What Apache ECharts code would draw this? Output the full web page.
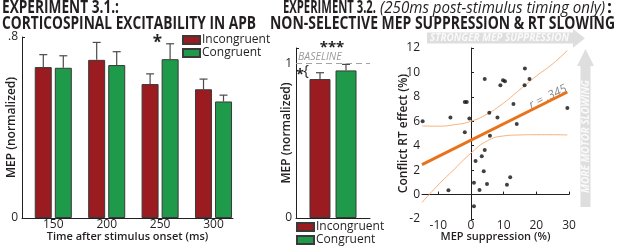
<!DOCTYPE html>
<html>
<head>
<meta charset="utf-8">
<script src="https://cdn.jsdelivr.net/npm/echarts@6/dist/echarts.min.js"></script>
<style>
  html, body { margin: 0; padding: 0; background: #fff; }
  #grafico { width: 617px; height: 247px; }
</style>
</head>
<body>
<div id="grafico"></div>
<script>
// Experimento 3.1: MEP por tiempo tras el estimulo
const tiempos = ['150', '200', '250', '300'];
const incongruente = [0.667, 0.699, 0.592, 0.569];
const congruente = [0.664, 0.676, 0.702, 0.515];
const incongruenteErr = [0.722, 0.776, 0.637, 0.614]; // extremo superior de la barra de error
const congruenteErr = [0.717, 0.735, 0.770, 0.543];

// Experimento 3.2: solo 250 ms
const exp2Media = [0.899, 0.955]; // Incongruent, Congruent
const exp2Err = [0.940, 0.994];

// Correlacion: supresion del MEP vs efecto de conflicto en RT
const supresionMEP = [-14.8, -6.3, -6.9, -1.9, -1.3, -1.9, -0.5, 4.2, 5.6, 5.8, 4.2, 3.3, 1.4, 3.9, 0.9,
  2.6, 0.9, 4.9, 8.1, 9.0, 9.8, 10.4, 13.0, 14.0, 12.0, 11.0, 16.5, 17.9, 16.4, 29.5];
const efectoRT = [6.0, 6.3, 0.35, 7.58, 7.58, 5.1, 6.22, 9.46, 6.69, 4.81, 3.64, 3.13, 2.75, 1.9, 0.96,
  0.37, -0.96, 0.87, 6.32, 8.95, 9.36, 9.28, 7.41, 5.77, 1.42, 0.81, 10.32, 9.46, 8.96, 7.09];
const ajusteX = [-15, 29.5];
const ajusteY = [2.45, 8.4];
const bandaX = [-15, -10, -5, 0, 5, 10, 15, 20, 25, 29.5];
const bandaSup = [5.62, 5.6, 5.72, 6.0, 6.6, 7.5, 8.6, 9.7, 10.7, 11.8];
const bandaInf = [-0.65, 0.8, 2.1, 3.4, 4.4, 4.8, 4.88, 4.9, 4.9, 4.88];

const TINTA = '#231f20';
const ROJO = '#9b1c20';
const VERDE = '#1f9a4a';
const NARANJA = '#e8731c';
const FLECHA = '#dedede';
const FUENTE = '"Open Sans"';

const myChart = echarts.init(document.getElementById('grafico'));

// Medir texto para ajustar el ancho de los titulos
const lienzo = document.createElement('canvas').getContext('2d');
function textoAjustado(texto, fuente, x, y, ancho, extra) {
  lienzo.font = fuente;
  const s = ancho / lienzo.measureText(texto).width;
  return Object.assign({
    type: 'text', x: x, y: y, scaleX: s,
    style: { text: texto, font: fuente, fill: TINTA, align: 'left', verticalAlign: 'middle' }
  }, extra || {});
}

function barraError(desplazamiento) {
  return function (params, api) {
    const base = api.coord([api.value(0), api.value(1)]);
    const tope = api.coord([api.value(0), api.value(2)]);
    const x = base[0] + desplazamiento;
    const estilo = { stroke: '#4a4a4a', lineWidth: 1.2 };
    return {
      type: 'group',
      children: [
        { type: 'line', shape: { x1: x, y1: base[1], x2: x, y2: tope[1] }, style: estilo },
        { type: 'line', shape: { x1: x - 4, y1: tope[1], x2: x + 4, y2: tope[1] }, style: estilo }
      ]
    };
  };
}

const ejeComun = {
  axisLine: { show: true, lineStyle: { color: TINTA, width: 1 } },
  splitLine: { show: false },
  nameMoveOverlap: false
};
const nombreEstilo = { fontFamily: FUENTE, fontWeight: 600, fontSize: 12, color: TINTA };
const nombreEstiloX = { fontFamily: FUENTE, fontWeight: 600, fontSize: 11, color: TINTA };
const etiquetaEstilo = { fontFamily: FUENTE, fontSize: 12, color: TINTA };

const option = {
  animation: false,
  textStyle: { fontFamily: FUENTE },
  grid: [
    { left: 22, top: 37, width: 211, height: 181, outerBoundsMode: 'none' },
    { left: 296, top: 48, width: 74, height: 170, outerBoundsMode: 'none' },
    { left: 422, top: 48, width: 147, height: 171, outerBoundsMode: 'none' }
  ],
  xAxis: [
    Object.assign({}, ejeComun, {
      gridIndex: 0, type: 'value', min: 0.414, max: 4.365,
      axisTick: { show: false },
      axisLabel: Object.assign({}, etiquetaEstilo, {
        margin: 1, customValues: [1, 2, 3, 4],
        formatter: v => tiempos[Math.round(v) - 1]
      }),
      name: 'Time after stimulus onset (ms)', nameLocation: 'middle', nameGap: 13,
      nameTextStyle: nombreEstiloX
    }),
    Object.assign({}, ejeComun, {
      gridIndex: 1, type: 'category', data: [''],
      axisTick: { show: false }, axisLabel: { show: false }
    }),
    Object.assign({}, ejeComun, {
      gridIndex: 2, type: 'value', min: -15, max: 30,
      axisTick: { show: true, inside: true, length: 3, customValues: [-10, 0, 10, 20, 30], lineStyle: { color: TINTA } },
      axisLabel: Object.assign({}, etiquetaEstilo, { margin: 1, customValues: [-10, 0, 10, 20, 30] }),
      name: 'MEP suppression (%)', nameLocation: 'middle', nameGap: 12,
      nameTextStyle: nombreEstiloX
    })
  ],
  yAxis: [
    Object.assign({}, ejeComun, {
      gridIndex: 0, type: 'value', min: 0, max: 0.8, interval: 0.8,
      axisTick: { show: true, inside: true, length: 3, lineStyle: { color: TINTA } },
      axisLabel: Object.assign({}, etiquetaEstilo, { margin: 4, formatter: v => (v === 0 ? '0' : '.8') }),
      name: 'MEP (normalized)', nameLocation: 'middle', nameGap: 4, nameRotate: 90,
      nameTextStyle: nombreEstilo
    }),
    Object.assign({}, ejeComun, {
      gridIndex: 1, type: 'value', min: 0, max: 1.1, interval: 1,
      axisTick: { show: true, inside: true, length: 3, lineStyle: { color: TINTA } },
      axisLabel: Object.assign({}, etiquetaEstilo, { margin: 4, formatter: v => (v === 0 || v === 1 ? String(v) : '') }),
      name: 'MEP (normalized)', nameLocation: 'middle', nameGap: 3, nameRotate: 90,
      nameTextStyle: nombreEstilo
    }),
    Object.assign({}, ejeComun, {
      gridIndex: 2, type: 'value', min: -2, max: 12, interval: 2,
      axisTick: { show: true, inside: true, length: 3, lineStyle: { color: TINTA } },
      axisLabel: Object.assign({}, etiquetaEstilo, { margin: 2 }),
      name: 'Conflict RT effect (%)', nameLocation: 'middle', nameGap: 12, nameRotate: 90,
      nameTextStyle: nombreEstilo
    })
  ],
  legend: [
    {
      data: ['Incongruent', 'Congruent'], left: 182, top: 34, orient: 'vertical', padding: 0,
      itemWidth: 17, itemHeight: 8, itemGap: 1, icon: 'rect', selectedMode: false,
      textStyle: { fontFamily: FUENTE, fontSize: 12, lineHeight: 9, color: TINTA, padding: [0, 0, 0, -3] }
    },
    {
      data: ['Incongruent', 'Congruent'], left: 296, top: 221, orient: 'vertical', padding: 0,
      itemWidth: 17, itemHeight: 8, itemGap: 1, icon: 'rect', selectedMode: false,
      textStyle: { fontFamily: FUENTE, fontSize: 12, lineHeight: 9, color: TINTA, padding: [0, 0, 0, -3] }
    }
  ],
  series: [
    {
      name: 'Incongruent', type: 'bar', xAxisIndex: 0, yAxisIndex: 0,
      data: incongruente.map((v, i) => [i + 1, v]),
      barWidth: 17, barGap: '18%',
      itemStyle: { color: ROJO, borderColor: '#3a3a3a', borderWidth: 1 }
    },
    {
      name: 'Congruent', type: 'bar', xAxisIndex: 0, yAxisIndex: 0,
      data: congruente.map((v, i) => [i + 1, v]),
      barWidth: 17, barGap: '18%',
      itemStyle: { color: VERDE, borderColor: '#3a3a3a', borderWidth: 1 }
    },
    {
      type: 'custom', xAxisIndex: 0, yAxisIndex: 0, z: 3,
      data: incongruente.map((v, i) => [i + 1, v, incongruenteErr[i]]),
      encode: { x: 0, y: [1, 2] },
      renderItem: barraError(-10)
    },
    {
      type: 'custom', xAxisIndex: 0, yAxisIndex: 0, z: 3,
      data: congruente.map((v, i) => [i + 1, v, congruenteErr[i]]),
      encode: { x: 0, y: [1, 2] },
      renderItem: barraError(10)
    },
    {
      name: 'Incongruent', type: 'bar', xAxisIndex: 1, yAxisIndex: 1,
      data: [exp2Media[0]], barWidth: 21, barGap: '24%',
      itemStyle: { color: ROJO, borderColor: '#3a3a3a', borderWidth: 1 },
      markLine: {
        silent: true, symbol: 'none',
        lineStyle: { color: '#a3a3a3', type: [6, 4], width: 1 },
        label: {
          show: true, position: 'insideStartTop', formatter: 'BASELINE', distance: [2, 1],
          fontFamily: FUENTE, fontStyle: 'italic', fontSize: 10.5, color: '#9a9a9a'
        },
        data: [{ yAxis: 1 }]
      }
    },
    {
      name: 'Congruent', type: 'bar', xAxisIndex: 1, yAxisIndex: 1,
      data: [exp2Media[1]], barWidth: 21, barGap: '24%',
      itemStyle: { color: VERDE, borderColor: '#3a3a3a', borderWidth: 1 }
    },
    {
      type: 'custom', xAxisIndex: 1, yAxisIndex: 1, z: 3,
      data: [[0, exp2Media[0], exp2Err[0]]], encode: { x: 0, y: [1, 2] },
      renderItem: barraError(-13)
    },
    {
      type: 'custom', xAxisIndex: 1, yAxisIndex: 1, z: 3,
      data: [[0, exp2Media[1], exp2Err[1]]], encode: { x: 0, y: [1, 2] },
      renderItem: barraError(13)
    },
    {
      type: 'line', xAxisIndex: 2, yAxisIndex: 2, smooth: true, symbol: 'none',
      data: bandaX.map((x, i) => [x, bandaSup[i]]),
      lineStyle: { color: '#f4b07c', width: 1 }
    },
    {
      type: 'line', xAxisIndex: 2, yAxisIndex: 2, smooth: true, symbol: 'none',
      data: bandaX.map((x, i) => [x, bandaInf[i]]),
      lineStyle: { color: '#f4b07c', width: 1 }
    },
    {
      type: 'line', xAxisIndex: 2, yAxisIndex: 2, symbol: 'none',
      data: ajusteX.map((x, i) => [x, ajusteY[i]]),
      lineStyle: { color: NARANJA, width: 3 }
    },
    {
      type: 'scatter', xAxisIndex: 2, yAxisIndex: 2, symbolSize: 4, z: 4,
      data: supresionMEP.map((x, i) => [x, efectoRT[i]]),
      itemStyle: { color: '#111' }
    }
  ],
  graphic: [
    // flechas grises
    {
      type: 'polygon', z: -1,
      shape: { points: [[427, 32.5], [573, 32.5], [573, 29], [585, 38.3], [573, 47.7], [573, 43.5], [427, 43.5]] },
      style: { fill: FLECHA }
    },
    {
      type: 'polygon', z: -1,
      shape: { points: [[580.5, 207], [580.5, 66], [577, 66], [585.5, 49], [594, 66], [590.5, 66], [590.5, 207]] },
      style: { fill: FLECHA }
    },
    textoAjustado('STRONGER MEP SUPPRESSION', 'italic bold 11px ' + FUENTE, 430, 38.3, 139,
      { style: { text: 'STRONGER MEP SUPPRESSION', font: 'italic bold 11px ' + FUENTE, fill: '#fafafa', align: 'left', verticalAlign: 'middle' } }),
    textoAjustado('MORE MOTOR SLOWING', 'italic bold 11px ' + FUENTE, 585.5, 193, 113,
      { rotation: Math.PI / 2, style: { text: 'MORE MOTOR SLOWING', font: 'italic bold 11px ' + FUENTE, fill: '#fafafa', align: 'left', verticalAlign: 'middle' } }),
    // titulos
    textoAjustado('EXPERIMENT 3.1.:', 'bold 17px ' + FUENTE, 2, 8.5, 117),
    textoAjustado('CORTICOSPINAL EXCITABILITY IN APB', 'bold 17px ' + FUENTE, 2, 24, 254),
    textoAjustado('EXPERIMENT 3.2.', 'bold 17px ' + FUENTE, 283, 8.5, 93),
    textoAjustado('(250ms post-stimulus timing only)', 'italic 17px ' + FUENTE, 380, 8.5, 225),
    textoAjustado(':', 'bold 17px ' + FUENTE, 607, 8.5, 5),
    textoAjustado('NON-SELECTIVE MEP SUPPRESSION & RT SLOWING', 'bold 17px ' + FUENTE, 270, 24, 345),
    // marcas de significancia
    { type: 'text', x: 157.5, y: 43, style: { text: '*', font: 'bold 17px ' + FUENTE, fill: TINTA, align: 'center', verticalAlign: 'middle' } },
    { type: 'text', x: 332, y: 48, style: { text: '***', font: 'bold 15px ' + FUENTE, fill: TINTA, align: 'center', verticalAlign: 'middle' } },
    { type: 'text', x: 300, y: 75, style: { text: '*', font: 'bold 14px ' + FUENTE, fill: TINTA, align: 'center', verticalAlign: 'middle' } },
    { type: 'text', x: 306, y: 71, style: { text: '{', font: '15px ' + FUENTE, fill: TINTA, align: 'center', verticalAlign: 'middle' } },
    // coeficiente de correlacion
    {
      type: 'text', x: 548, y: 97, rotation: 0.46,
      style: { text: 'r = .345', font: 'italic 12px ' + FUENTE, fill: '#8c8c8c', align: 'center', verticalAlign: 'middle' }
    }
  ]
};

myChart.setOption(option);
</script>
</body>
</html>
